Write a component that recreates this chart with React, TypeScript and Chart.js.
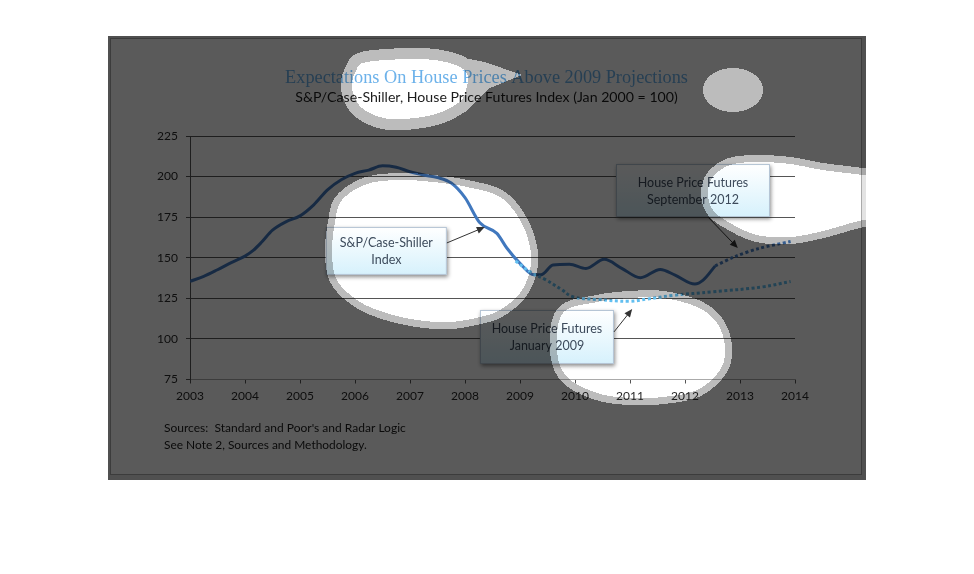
import React, { useEffect, useRef } from "react";
import { Chart, registerables } from "chart.js";

Chart.register(...registerables);

// ---------------- data ----------------
const yearTicks = [2003, 2004, 2005, 2006, 2007, 2008, 2009, 2010, 2011, 2012, 2013, 2014];
const yearLabels = ["2003", "2004", "2005", "2006", "2007", "2008", "2009", "2010", "2011", "2012", "2013", "2014"];
const valueTicks = [75, 100, 125, 150, 175, 200, 225];
const valueLabels = ["75", "100", "125", "150", "175", "200", "225"];

// S&P/Case-Shiller composite index (decimal year, index value)
const spcsYears = [
  2003.0, 2003.25, 2003.5, 2003.75, 2004.0, 2004.15, 2004.3, 2004.5, 2004.75, 2005.0,
  2005.25, 2005.5, 2005.75, 2006.0, 2006.25, 2006.5, 2006.75, 2007.0, 2007.25, 2007.5,
  2007.75, 2008.0, 2008.27, 2008.58, 2008.76, 2009.0, 2009.25, 2009.38, 2009.6, 2009.9,
  2010.2, 2010.53, 2010.85, 2011.19, 2011.55, 2011.82, 2012.18, 2012.33, 2012.55,
];
const spcsValues = [
  135.5, 138.5, 142.6, 147, 151, 154.5, 159.5, 167, 172.3, 175.8,
  182.6, 191.8, 198, 202, 204, 206.6, 205.7, 203, 201, 199.4,
  196, 187, 171.5, 165, 156, 146.5, 139.5, 139.5, 145.5, 146,
  143.4, 149, 143.5, 137.7, 142.8, 139.3, 133.8, 136.2, 145,
];

// House Price Futures, January 2009
const futJan09Years = [2008.92, 2009.2, 2009.48, 2009.75, 2009.96, 2010.4, 2011.0, 2011.3, 2011.78, 2012.5, 2013.4, 2013.92];
const futJan09Values = [148, 141, 136.2, 130.5, 126, 124.3, 123.2, 124.5, 126.8, 129, 132, 135.4];

// House Price Futures, September 2012
const futSep12Years = [2012.55, 2012.9, 2013.35, 2013.92];
const futSep12Values = [145, 150.6, 155.8, 160];

// ---------------- text ----------------
const titleText = "Expectations On House Prices Above 2009 Projections";
const subtitleText = "S&P/Case-Shiller, House Price Futures Index (Jan 2000 = 100)";
const sourceLines = ["Sources:  Standard and Poor's and Radar Logic", "See Note 2, Sources and Methodology."];

// annotation boxes (anchored in data space)
const notes = [
  { lines: ["S&P/Case-Shiller", "Index"], cx: 2006.57, cy: 154.2, w: 121, h: 48, ax: 60.5, ay: -8, tip: [2008.36, 168.9] },
  { lines: ["House Price Futures", "January 2009"], cx: 2009.49, cy: 101.2, w: 134, h: 54, ax: 67, ay: -5, tip: [2011.04, 118.4] },
  { lines: ["House Price Futures", "September 2012"], cx: 2012.145, cy: 191.4, w: 154, h: 53, ax: 15, ay: 26.5, tip: [2012.96, 156] },
];

// spotlight blobs (decoration, page pixels)
const frame = { x: 108, y: 36, w: 758, h: 444 };
const DIM = 0.353;
const HALO_DIM = 0.737;
type Blob = { pts: number[][]; halo: number; haloOnly?: boolean; tail?: number[][] };
const ellipsePts = (cx: number, cy: number, rx: number, ry: number) => {
  const out: number[][] = [];
  for (let i = 0; i < 16; i++) {
    const a = (i / 16) * Math.PI * 2;
    out.push([cx + rx * Math.cos(a), cy + ry * Math.sin(a)]);
  }
  return out;
};
const blobs: Blob[] = [
  {
    pts: [[367, 62], [420, 59], [453, 64], [467, 74], [466, 90], [458, 103], [432, 115], [390, 119], [362, 108], [352, 88], [356, 71]],
    halo: 11,
    tail: [[435, 52], [485, 62], [522, 75], [490, 88], [465, 112], [455, 85]],
  },
  { pts: ellipsePts(733, 90, 30, 22), halo: 0, haloOnly: true },
  {
    pts: [[342, 200], [367, 184], [400, 180], [433, 182], [467, 187], [500, 197], [520, 220], [530, 247], [530, 270], [520, 293], [500, 310], [480, 317], [450, 322], [417, 320], [383, 312], [357, 300], [337, 280], [332, 253], [335, 222]],
    halo: 7,
  },
  {
    pts: [[563, 313], [597, 302], [630, 298], [663, 298], [697, 307], [717, 323], [725, 347], [720, 370], [697, 390], [663, 397], [630, 398], [597, 393], [567, 377], [557, 350]],
    halo: 7,
  },
  {
    pts: [[708, 193], [713, 177], [730, 165], [757, 162], [790, 164], [823, 170], [863, 175], [900, 180], [900, 215], [863, 220], [823, 231], [790, 237], [757, 235], [730, 223], [713, 210]],
    halo: 7,
  },
];

const SANS = "Lato";

// sample a closed Catmull-Rom curve into a dense polygon
function sampleSmooth(pts: number[][], steps = 14): number[][] {
  const n = pts.length;
  const out: number[][] = [];
  for (let i = 0; i < n; i++) {
    const p0 = pts[(i - 1 + n) % n], p1 = pts[i], p2 = pts[(i + 1) % n], p3 = pts[(i + 2) % n];
    const c1 = [p1[0] + (p2[0] - p0[0]) / 6, p1[1] + (p2[1] - p0[1]) / 6];
    const c2 = [p2[0] - (p3[0] - p1[0]) / 6, p2[1] - (p3[1] - p1[1]) / 6];
    for (let s = 0; s < steps; s++) {
      const t = s / steps, u = 1 - t;
      const a = u * u * u, b = 3 * u * u * t, c = 3 * u * t * t, e = t * t * t;
      out.push([a * p1[0] + b * c1[0] + c * c2[0] + e * p2[0], a * p1[1] + b * c1[1] + c * c2[1] + e * p2[1]]);
    }
  }
  return out;
}

function inPoly(poly: number[][], x: number, y: number) {
  let inside = false;
  for (let i = 0, j = poly.length - 1; i < poly.length; j = i++) {
    const xi = poly[i][0], yi = poly[i][1], xj = poly[j][0], yj = poly[j][1];
    if (yi > y !== yj > y && x < ((xj - xi) * (y - yi)) / (yj - yi) + xi) inside = !inside;
  }
  return inside;
}

function distPoly(poly: number[][], x: number, y: number) {
  let best = Infinity;
  for (let i = 0, j = poly.length - 1; i < poly.length; j = i++) {
    const ax = poly[j][0], ay = poly[j][1], bx = poly[i][0], by = poly[i][1];
    const dx = bx - ax, dy = by - ay;
    const L = dx * dx + dy * dy;
    let t = L > 0 ? ((x - ax) * dx + (y - ay) * dy) / L : 0;
    t = Math.max(0, Math.min(1, t));
    const qx = ax + t * dx - x, qy = ay + t * dy - y;
    const dd = qx * qx + qy * qy;
    if (dd < best) best = dd;
  }
  return Math.sqrt(best);
}

function fittedText(ctx: CanvasRenderingContext2D, text: string, family: string, target: number, x: number, y: number, align: CanvasTextAlign, color: string) {
  ctx.font = `20px "${family}"`;
  const w = ctx.measureText(text).width;
  const size = (20 * target) / w;
  ctx.font = `${size}px "${family}"`;
  ctx.textAlign = align;
  ctx.textBaseline = "alphabetic";
  ctx.fillStyle = color;
  ctx.fillText(text, x, y);
}

function applySpotlight(chart: any) {
  const ctx = chart.ctx as CanvasRenderingContext2D;
  const dpr = chart.currentDevicePixelRatio || 1;
  const prepared = blobs.map((b) => {
    const poly = sampleSmooth(b.pts);
    const all = b.tail ? poly.concat(b.tail) : poly;
    const xs = all.map((p) => p[0]), ys = all.map((p) => p[1]);
    const pad = b.halo + 2;
    return {
      b, poly,
      x0: Math.min(...xs) - pad, x1: Math.max(...xs) + pad,
      y0: Math.min(...ys) - pad, y1: Math.max(...ys) + pad,
    };
  });
  const fx = Math.round(frame.x * dpr), fy = Math.round(frame.y * dpr);
  const fw = Math.round(frame.w * dpr), fh = Math.round(frame.h * dpr);
  const img = ctx.getImageData(fx, fy, fw, fh);
  const d = img.data;
  for (let py = 0; py < fh; py++) {
    const Y = (fy + py + 0.5) / dpr;
    for (let px = 0; px < fw; px++) {
      const X = (fx + px + 0.5) / dpr;
      let f = DIM;
      for (const q of prepared) {
        if (X < q.x0 || X > q.x1 || Y < q.y0 || Y > q.y1) continue;
        if (inPoly(q.poly, X, Y)) {
          f = q.b.haloOnly ? HALO_DIM : 1;
          break;
        }
        if ((q.b.halo > 0 && distPoly(q.poly, X, Y) <= q.b.halo) || (q.b.tail && inPoly(q.b.tail, X, Y))) {
          f = HALO_DIM;
          break;
        }
      }
      if (f !== 1) {
        const i = (py * fw + px) * 4;
        d[i] = d[i] * f;
        d[i + 1] = d[i + 1] * f;
        d[i + 2] = d[i + 2] * f;
      }
    }
  }
  ctx.putImageData(img, fx, fy);
}

const decoPlugin = {
  id: "deco",
  beforeDraw(chart: any) {
    const ctx = chart.ctx as CanvasRenderingContext2D;
    ctx.save();
    ctx.fillStyle = "#e3e3e3";
    ctx.fillRect(frame.x, frame.y, frame.w, frame.h);
    ctx.fillStyle = "#aaaaaa";
    ctx.fillRect(110, 38, 752, 437);
    ctx.fillStyle = "#ffffff";
    ctx.fillRect(111, 39, 750, 435);
    ctx.restore();
  },
  afterDatasetsDraw(chart: any) {
    const ctx = chart.ctx as CanvasRenderingContext2D;
    const xs = chart.scales.x, ys = chart.scales.y;
    notes.forEach((n) => {
      const cx = xs.getPixelForValue(n.cx), cy = ys.getPixelForValue(n.cy);
      const left = cx - n.w / 2, top = cy - n.h / 2;
      ctx.save();
      ctx.shadowColor = "rgba(0,0,0,0.45)";
      ctx.shadowBlur = 4;
      ctx.shadowOffsetX = 1;
      ctx.shadowOffsetY = 2;
      const g = ctx.createLinearGradient(0, top, 0, top + n.h);
      g.addColorStop(0, "#ffffff");
      g.addColorStop(1, "#d6f1fc");
      ctx.fillStyle = g;
      ctx.fillRect(left, top, n.w, n.h);
      ctx.restore();
      ctx.save();
      ctx.strokeStyle = "#b4c4d4";
      ctx.lineWidth = 1;
      ctx.strokeRect(left + 0.5, top + 0.5, n.w - 1, n.h - 1);
      ctx.fillStyle = "#3d4b5c";
      ctx.font = `12.5px "${SANS}"`;
      ctx.textAlign = "center";
      ctx.textBaseline = "middle";
      ctx.fillText(n.lines[0], cx, cy - 7.5);
      ctx.fillText(n.lines[1], cx, cy + 9);
      // arrow
      const sx = cx + n.ax, sy = cy + n.ay;
      const tx = xs.getPixelForValue(n.tip[0]), ty = ys.getPixelForValue(n.tip[1]);
      const ang = Math.atan2(ty - sy, tx - sx);
      ctx.strokeStyle = "#333333";
      ctx.fillStyle = "#333333";
      ctx.beginPath();
      ctx.moveTo(sx, sy);
      ctx.lineTo(tx - 5 * Math.cos(ang), ty - 5 * Math.sin(ang));
      ctx.stroke();
      ctx.beginPath();
      ctx.moveTo(tx, ty);
      ctx.lineTo(tx - 8 * Math.cos(ang) + 3.5 * Math.sin(ang), ty - 8 * Math.sin(ang) - 3.5 * Math.cos(ang));
      ctx.lineTo(tx - 8 * Math.cos(ang) - 3.5 * Math.sin(ang), ty - 8 * Math.sin(ang) + 3.5 * Math.cos(ang));
      ctx.closePath();
      ctx.fill();
      ctx.restore();
    });
  },
  afterDraw(chart: any) {
    const ctx = chart.ctx as CanvasRenderingContext2D;
    ctx.save();
    fittedText(ctx, titleText, "Liberation Serif", 403, 486.5, 83, "center", "#6db2ea");
    fittedText(ctx, subtitleText, SANS, 383, 486.5, 101.5, "center", "#1c1c1c");
    fittedText(ctx, sourceLines[0], SANS, 242, 164, 432, "left", "#1c1c1c");
    fittedText(ctx, sourceLines[1], SANS, 203, 164, 449, "left", "#1c1c1c");
    ctx.restore();
    applySpotlight(chart);
  },
};

export default function App() {
  const ref = useRef<HTMLCanvasElement | null>(null);
  useEffect(() => {
    if (!ref.current) return;
    const toXY = (xs: number[], vs: number[]) => xs.map((x, i) => ({ x, y: vs[i] }));
    const chart = new Chart(ref.current, {
      type: "line",
      data: {
        datasets: [
          {
            label: "House Price Futures January 2009",
            data: toXY(futJan09Years, futJan09Values),
            borderColor: "#62bff0",
            borderWidth: 3,
            borderDash: [3, 2.5],
            pointRadius: 0,
            tension: 0.4,
            fill: false,
          },
          {
            label: "House Price Futures September 2012",
            data: toXY(futSep12Years, futSep12Values),
            borderColor: "#4a80c4",
            borderWidth: 3,
            borderDash: [3, 2.5],
            pointRadius: 0,
            tension: 0.3,
            fill: false,
          },
          {
            label: "S&P/Case-Shiller Index",
            data: toXY(spcsYears, spcsValues),
            borderColor: "#4178be",
            borderWidth: 3,
            pointRadius: 0,
            tension: 0.4,
            cubicInterpolationMode: "monotone",
            fill: false,
          },
        ],
      },
      options: {
        responsive: false,
        animation: false,
        layout: { padding: { left: 0, top: 136, right: 179, bottom: 0 } },
        plugins: { legend: { display: false }, tooltip: { enabled: false }, title: { display: false } },
        scales: {
          x: {
            type: "linear",
            min: 2003,
            max: 2014,
            afterFit: (s: any) => { s.height = 574 - 379.5; },
            afterBuildTicks: (s: any) => { s.ticks = yearTicks.map((v) => ({ value: v })); },
            ticks: {
              autoSkip: false,
              maxRotation: 0,
              padding: 5,
              color: "#2a2a2a",
              font: { family: SANS, size: 12 },
              callback: (v: any) => yearLabels[yearTicks.indexOf(Number(v))] ?? "",
            },
            grid: { drawOnChartArea: false, drawTicks: true, tickLength: 4, color: "#555555" },
            border: { color: "#aaaaaa", width: 1 },
          },
          y: {
            type: "linear",
            min: 75,
            max: 225,
            afterFit: (s: any) => { s.width = 190; },
            afterBuildTicks: (s: any) => { s.ticks = valueTicks.map((v) => ({ value: v })); },
            ticks: {
              padding: 8,
              color: "#2a2a2a",
              font: { family: SANS, size: 12 },
              callback: (v: any) => valueLabels[valueTicks.indexOf(Number(v))] ?? "",
            },
            grid: {
              color: (c: any) => (c.tick && c.tick.value === 75 ? "rgba(0,0,0,0)" : "#555555"),
              tickColor: "#555555",
              tickLength: 4,
            },
            border: { color: "#555555", width: 1 },
          },
        },
      },
      plugins: [decoPlugin],
    });
    return () => chart.destroy();
  }, []);
  return (
    <div style={{ position: "absolute", left: 0, top: 0, width: 974, height: 574 }}>
      <canvas ref={ref} width={974} height={574} style={{ width: 974, height: 574, display: "block" }} />
    </div>
  );
}
